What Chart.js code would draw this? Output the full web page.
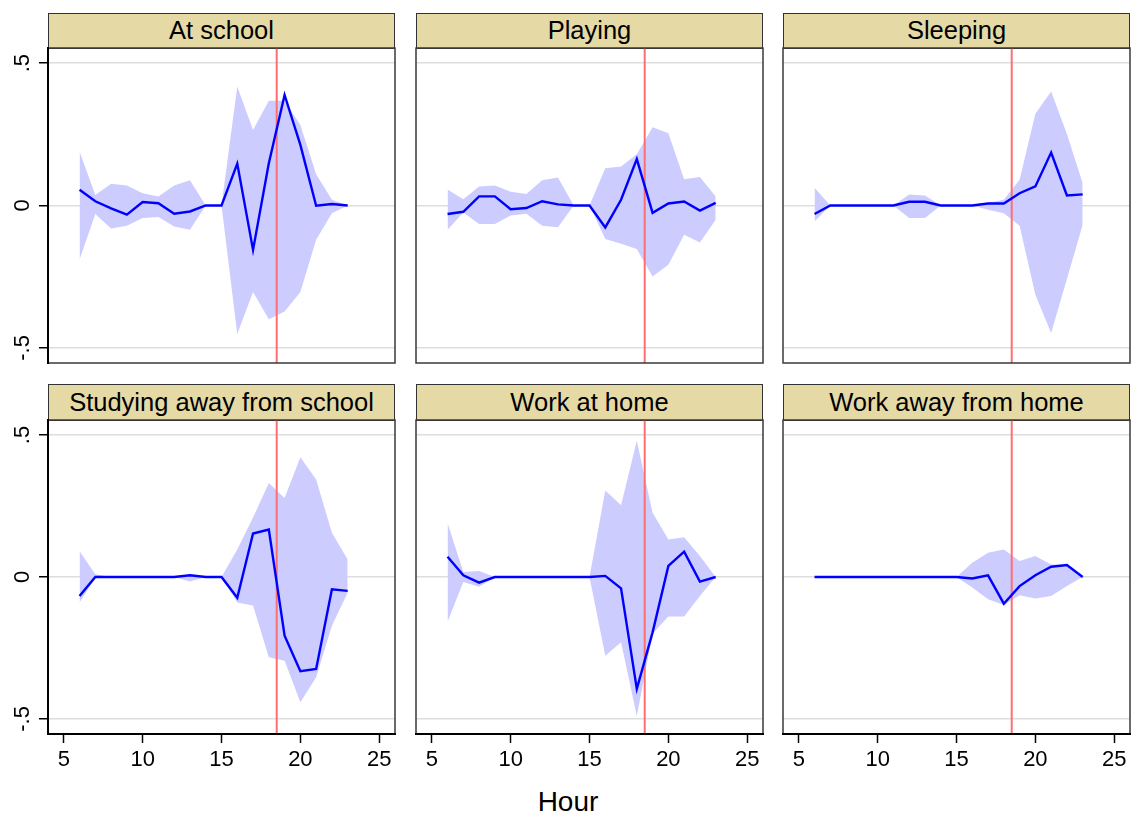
<!DOCTYPE html>
<html>
<head>
<meta charset="utf-8">
<script src="https://cdn.jsdelivr.net/npm/chart.js@4"></script>
<style>
  body { margin: 0; background: #fff; }
  #fig { position: relative; width: 1142px; height: 822px; overflow: hidden; font-family: "Liberation Sans", Arial, sans-serif; }
  canvas { position: absolute; }
  .strip {
    position: absolute; box-sizing: border-box; border: 1.5px solid #333;
    background: #e5d9a5; color: #000; text-align: center; font-size: 25.5px;
  }
  #xtitle { position: absolute; left: 468px; width: 200px; top: 786px; text-align: center; font-size: 28px; color: #000; }
</style>
</head>
<body>
<div id="fig"><div id="xtitle">Hour</div></div>
<script>
const HOURS = [6, 7, 8, 9, 10, 11, 12, 13, 14, 15, 16, 17, 18, 19, 20, 21, 22, 23];
const X_TICKS = [5, 10, 15, 20, 25];
const Y_TICKS = [-0.5, 0, 0.5];
const Y_TICK_LABELS = ['-.5', '0', '.5'];
const REF_HOUR = 18.5;
const TITLES = ['At school', 'Playing', 'Sleeping', 'Studying away from school', 'Work at home', 'Work away from home'];

const SCHOOL_EST = [0.055, 0.015, -0.010, -0.032, 0.012, 0.008, -0.029, -0.021, 0, 0, 0.147, -0.156, 0.148, 0.388, 0.213, -0.001, 0.005, 0];
const SCHOOL_HI  = [0.19, 0.037, 0.076, 0.07, 0.043, 0.032, 0.07, 0.089, 0, 0, 0.418, 0.265, 0.368, 0.368, 0.283, 0.11, 0.02, 0];
const SCHOOL_LO  = [-0.19, -0.03, -0.081, -0.071, -0.044, -0.04, -0.074, -0.085, 0, 0, -0.451, -0.304, -0.399, -0.372, -0.304, -0.12, -0.027, 0];

const PLAY_EST = [-0.03, -0.022, 0.032, 0.032, -0.013, -0.009, 0.015, 0.004, 0, 0, -0.077, 0.02, 0.163, -0.026, 0.007, 0.014, -0.018, 0.009];
const PLAY_HI  = [0.056, 0.022, 0.067, 0.07, 0.048, 0.04, 0.089, 0.098, 0, 0, 0.131, 0.137, 0.18, 0.275, 0.254, 0.092, 0.1, 0.032];
const PLAY_LO  = [-0.085, -0.025, -0.065, -0.065, -0.035, -0.029, -0.071, -0.076, 0, 0, -0.118, -0.134, -0.153, -0.249, -0.208, -0.103, -0.13, -0.05];

const SLEEP_EST = [-0.03, 0, 0, 0, 0, 0, 0.013, 0.013, 0, 0, 0, 0.007, 0.007, 0.043, 0.067, 0.186, 0.035, 0.039];
const SLEEP_HI  = [0.062, 0, 0, 0, 0, 0, 0.039, 0.035, 0, 0, 0, 0.01, 0.02, 0.09, 0.322, 0.4, 0.251, 0.078];
const SLEEP_LO  = [-0.056, 0, 0, 0, 0, 0, -0.044, -0.044, 0, 0, 0, -0.015, -0.027, -0.071, -0.313, -0.448, -0.258, -0.068];

const STUDY_EST = [-0.067, 0, 0, 0, 0, 0, 0, 0.006, 0, 0, -0.073, 0.153, 0.167, -0.207, -0.332, -0.324, -0.043, -0.049];
const STUDY_HI  = [0.091, 0.01, 0, 0, 0, 0, 0, 0.01, 0, 0, 0.097, 0.21, 0.331, 0.278, 0.422, 0.343, 0.156, 0.062];
const STUDY_LO  = [-0.09, -0.002, 0, 0, 0, 0, 0, -0.016, 0, 0, -0.09, -0.1, -0.283, -0.295, -0.441, -0.353, -0.172, -0.055];

const HOMEWORK_EST = [0.071, 0.006, -0.02, 0, 0, 0, 0, 0, 0, 0, 0.004, -0.04, -0.394, -0.195, 0.039, 0.089, -0.016, 0];
const HOMEWORK_HI  = [0.19, 0.018, 0.021, 0, 0, 0, 0, 0, 0, 0, 0.305, 0.253, 0.48, 0.226, 0.132, 0.14, 0.074, 0];
const HOMEWORK_LO  = [-0.158, -0.018, -0.034, 0, 0, 0, 0, 0, 0, 0, -0.277, -0.23, -0.49, -0.2, -0.139, -0.139, -0.067, 0];

const AWAY_EST = [0, 0, 0, 0, 0, 0, 0, 0, 0, 0, -0.005, 0.006, -0.094, -0.032, 0.006, 0.036, 0.042, 0];
const AWAY_HI  = [0, 0, 0, 0, 0, 0, 0, 0, 0, 0, 0.05, 0.085, 0.097, 0.056, 0.074, 0.044, 0.042, 0];
const AWAY_LO  = [0, 0, 0, 0, 0, 0, 0, 0, 0, 0, -0.037, -0.078, -0.099, -0.064, -0.076, -0.067, -0.032, 0];

const SERIES = [
  [SCHOOL_EST, SCHOOL_LO, SCHOOL_HI],
  [PLAY_EST, PLAY_LO, PLAY_HI],
  [SLEEP_EST, SLEEP_LO, SLEEP_HI],
  [STUDY_EST, STUDY_LO, STUDY_HI],
  [HOMEWORK_EST, HOMEWORK_LO, HOMEWORK_HI],
  [AWAY_EST, AWAY_LO, AWAY_HI],
];

// layout of the 2x3 grid (plot areas, pixels)
const X_MIN = 4, X_MAX = 26, Y_MIN = -0.553, Y_MAX = 0.553;
const COL_LEFT = [48, 416, 783];
const PLOT_W = 347;
const ROW_STRIP_TOP = [13, 384];
const ROW_PLOT_TOP = [48, 420];
const ROW_PLOT_BOTTOM = [363, 734];
const FONT = '"Liberation Sans", Arial, sans-serif';

const frame = {
  id: 'frame',
  afterDatasetsDraw(chart, args, opts) {
    const { ctx, chartArea: a } = chart;
    ctx.save();
    ctx.strokeStyle = '#3a3a3a';
    ctx.lineWidth = 1.5;
    ctx.strokeRect(a.left, a.top, a.right - a.left, a.bottom - a.top);
    ctx.strokeStyle = '#000';
    ctx.lineWidth = 2;
    if (opts.leftAxis) {
      ctx.beginPath(); ctx.moveTo(a.left, a.top - 1); ctx.lineTo(a.left, a.bottom + 1); ctx.stroke();
      // rotated y tick labels
      ctx.fillStyle = '#000';
      ctx.font = '22px ' + FONT;
      ctx.textAlign = 'center';
      ctx.textBaseline = 'middle';
      Y_TICKS.forEach((v, i) => {
        const y = chart.scales.y.getPixelForValue(v);
        ctx.save();
        ctx.translate(23, y);
        ctx.rotate(-Math.PI / 2);
        ctx.fillText(Y_TICK_LABELS[i], 0, 0);
        ctx.restore();
      });
    }
    if (opts.bottomAxis) {
      ctx.beginPath(); ctx.moveTo(a.left - 1, a.bottom); ctx.lineTo(a.right + 1, a.bottom); ctx.stroke();
    }
    ctx.restore();
  }
};

const fig = document.getElementById('fig');
const pts = vals => HOURS.map((h, i) => ({ x: h, y: vals[i] }));

SERIES.forEach(([est, lo, hi], idx) => {
  const row = Math.floor(idx / 3), col = idx % 3;
  const isLeft = col === 0, isBottom = row === 1;
  const yAxisW = isLeft ? 48 : 0;
  const xAxisH = isBottom ? 822 - ROW_PLOT_BOTTOM[1] : 0;

  const strip = document.createElement('div');
  strip.className = 'strip';
  strip.textContent = TITLES[idx];
  const stripH = ROW_PLOT_TOP[row] - ROW_STRIP_TOP[row] + 1;
  Object.assign(strip.style, {
    left: COL_LEFT[col] + 'px', top: ROW_STRIP_TOP[row] + 'px',
    width: PLOT_W + 'px', height: stripH + 'px', lineHeight: (stripH - 3) + 'px'
  });
  fig.appendChild(strip);

  const cv = document.createElement('canvas');
  const cLeft = isLeft ? 0 : COL_LEFT[col] - 2;
  const cTop = ROW_PLOT_TOP[row] - 2;
  const cW = COL_LEFT[col] + PLOT_W + 2 - cLeft;
  const cH = isBottom ? 822 - cTop : ROW_PLOT_BOTTOM[row] + 2 - cTop;
  cv.width = cW; cv.height = cH;
  cv.style.left = cLeft + 'px'; cv.style.top = cTop + 'px';
  cv.style.width = cW + 'px'; cv.style.height = cH + 'px';
  fig.appendChild(cv);

  new Chart(cv, {
    type: 'line',
    data: {
      datasets: [
        { data: pts(est), borderColor: '#0000ff', borderWidth: 2.4, pointRadius: 0, fill: false },
        { data: [{ x: REF_HOUR, y: Y_MIN }, { x: REF_HOUR, y: Y_MAX }], borderColor: '#ff6e6e', borderWidth: 2, pointRadius: 0, fill: false },
        { data: pts(hi), borderColor: 'rgba(0,0,0,0)', borderWidth: 1, pointRadius: 0, backgroundColor: '#ccccff', fill: '+1' },
        { data: pts(lo), borderColor: 'rgba(0,0,0,0)', borderWidth: 1, pointRadius: 0, fill: false },
      ],
    },
    options: {
      responsive: false,
      animation: false,
      devicePixelRatio: 1,
      layout: { padding: { left: isLeft ? 0 : 2, right: 2, top: 2, bottom: isBottom ? 0 : 2 } },
      plugins: { legend: { display: false }, tooltip: { enabled: false }, frame: { leftAxis: isLeft, bottomAxis: isBottom } },
      elements: { line: { tension: 0 } },
      scales: {
        x: {
          type: 'linear', min: X_MIN, max: X_MAX,
          afterBuildTicks: s => { s.ticks = X_TICKS.map(v => ({ value: v })); },
          afterFit: s => { s.height = xAxisH; },
          border: { display: false },
          grid: { display: isBottom, drawOnChartArea: false, drawTicks: true, tickLength: 9, tickColor: '#000', tickWidth: 1.5 },
          ticks: { display: isBottom, color: '#000', font: { family: FONT, size: 22 }, padding: 4, maxRotation: 0 },
        },
        y: {
          type: 'linear', min: Y_MIN, max: Y_MAX,
          afterBuildTicks: s => { s.ticks = Y_TICKS.map(v => ({ value: v })); },
          afterFit: s => { s.width = yAxisW; },
          border: { display: false },
          grid: { color: '#dedede', lineWidth: 1.5, drawTicks: isLeft, tickLength: 9, tickColor: '#000', tickWidth: 1.5 },
          ticks: { display: false },
        },
      },
    },
    plugins: [frame],
  });
});
</script>
</body>
</html>
